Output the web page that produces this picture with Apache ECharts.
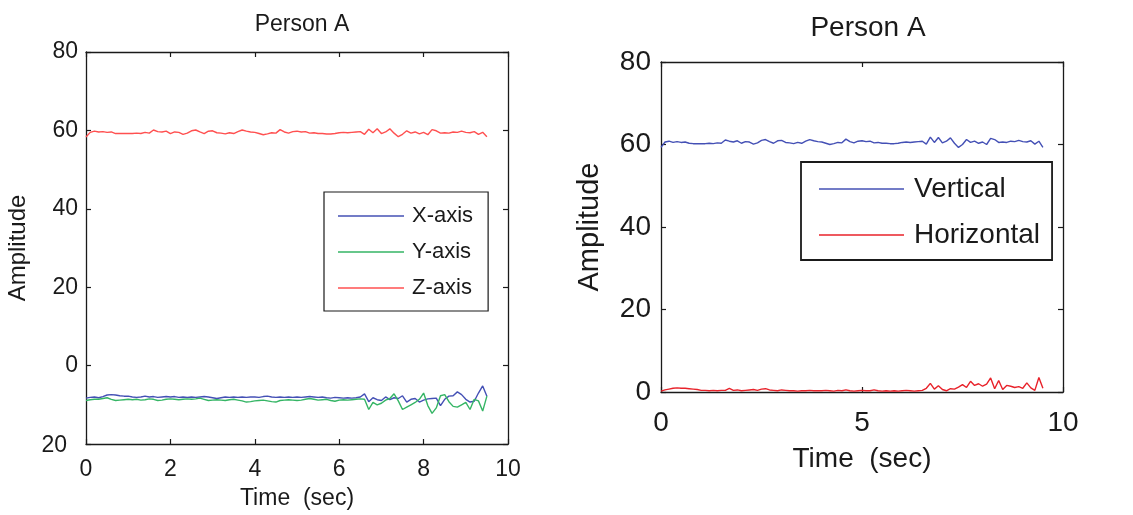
<!DOCTYPE html>
<html><head><meta charset="utf-8">
<script src="https://cdn.jsdelivr.net/npm/echarts@6/dist/echarts.min.js"></script>
<style>html,body{margin:0;padding:0;background:#fff}#c{width:1133px;height:515px}</style>
</head><body><div id="c"></div>
<script>
// time samples (sec)
const TIME = [0,0.1,0.2,0.3,0.4,0.5,0.6,0.7,0.8,0.9,1,1.1,1.2,1.3,1.4,1.5,1.6,1.7,1.8,1.9,2,2.1,2.2,2.3,2.4,2.5,2.6,2.7,2.8,2.9,3,3.1,3.2,3.3,3.4,3.5,3.6,3.7,3.8,3.9,4,4.1,4.2,4.3,4.4,4.5,4.6,4.7,4.8,4.9,5,5.1,5.2,5.3,5.4,5.5,5.6,5.7,5.8,5.9,6,6.1,6.2,6.3,6.4,6.5,6.6,6.7,6.8,6.9,7,7.1,7.2,7.3,7.4,7.5,7.6,7.7,7.8,7.9,8,8.1,8.2,8.3,8.4,8.5,8.6,8.7,8.8,8.9,9,9.1,9.2,9.3,9.4,9.5];

// Left panel: X/Y/Z axis amplitude
const X_AXIS = [-8.3,-8.1,-8.0,-8.2,-7.9,-7.5,-7.4,-7.5,-7.7,-7.8,-7.8,-8.0,-8.1,-8.0,-7.8,-8.0,-7.9,-8.1,-8.0,-7.9,-8.0,-7.9,-8.1,-8.0,-8.1,-8.0,-8.1,-8.0,-7.9,-8.0,-8.2,-8.4,-8.2,-8.0,-8.1,-8.0,-8.1,-8.0,-8.1,-8.0,-8.0,-8.1,-7.9,-7.8,-8.0,-8.1,-8.0,-8.1,-8.0,-8.1,-8.0,-8.1,-8.0,-7.9,-8.0,-8.1,-8.0,-8.2,-8.3,-8.1,-8.2,-8.3,-8.2,-8.3,-8.2,-8.0,-7.2,-9.2,-8.2,-8.7,-8.9,-8.0,-8.7,-8.2,-8.4,-7.7,-9.3,-8.6,-8.4,-9.3,-8.8,-8.5,-8.4,-8.3,-10.2,-8.6,-7.8,-7.7,-6.7,-7.4,-8.6,-9.3,-9.1,-7.0,-5.2,-7.8];
const Y_AXIS = [-8.9,-8.7,-8.6,-8.6,-8.4,-8.2,-8.6,-8.9,-8.8,-8.7,-8.6,-8.7,-8.6,-8.8,-8.7,-8.5,-8.6,-8.9,-8.8,-8.6,-8.5,-8.6,-8.7,-8.6,-8.5,-8.6,-8.5,-8.3,-8.6,-8.9,-8.8,-8.7,-8.8,-8.9,-8.7,-8.6,-8.8,-9.0,-9.3,-9.2,-9.0,-8.9,-8.8,-9.0,-9.2,-9.3,-8.9,-8.8,-8.7,-8.8,-8.9,-8.8,-8.6,-8.4,-8.6,-8.8,-8.7,-8.6,-8.9,-9.1,-8.8,-8.7,-8.8,-8.7,-8.6,-8.5,-8.6,-11.2,-9.4,-10.0,-9.6,-8.8,-8.4,-7.2,-9.0,-11.2,-10.6,-10.0,-9.4,-8.6,-7.0,-10.2,-12.2,-10.8,-7.7,-7.4,-9.2,-10.4,-10.6,-10.0,-9.4,-11.2,-8.6,-9.0,-11.6,-7.8];
const Z_AXIS = [58.3,59.5,59.8,59.6,59.7,59.5,59.6,59.2,59.2,59.2,59.2,59.2,59.3,59.2,59.5,59.3,60.1,59.7,59.6,59.8,59.2,59.6,59.5,59.0,59.3,59.9,60.1,59.6,59.2,59.8,59.9,59.4,59.3,59.1,59.4,59.2,59.7,60.1,59.8,59.6,59.5,59.2,58.9,59.1,59.4,59.3,60.2,59.6,59.3,59.7,59.8,59.6,59.7,59.3,59.4,59.2,59.2,59.1,59.1,59.2,59.4,59.5,59.4,59.5,59.6,59.7,59.0,60.3,59.4,60.4,59.2,59.6,60.4,59.3,58.4,59.0,59.9,59.3,59.6,59.1,59.5,58.9,60.2,59.9,59.3,59.4,59.3,59.6,59.5,59.8,59.5,59.4,59.7,59.0,59.5,58.4];

// Right panel: vertical / horizontal amplitude
const VERTICAL = [59.3,60.6,60.8,60.5,60.7,60.5,60.6,60.3,60.2,60.2,60.2,60.2,60.3,60.2,60.4,60.3,61.1,60.8,60.6,60.9,60.3,60.7,60.6,60.1,60.4,61.0,61.2,60.7,60.3,60.9,61.0,60.5,60.4,60.2,60.5,60.3,60.8,61.2,60.9,60.7,60.6,60.3,60.0,60.2,60.5,60.4,61.3,60.7,60.4,60.8,60.9,60.7,60.8,60.4,60.5,60.3,60.3,60.2,60.2,60.3,60.5,60.6,60.5,60.6,60.7,60.8,60.1,61.8,60.5,61.7,60.4,60.8,61.6,60.3,59.3,60.0,61.2,60.5,60.8,60.3,60.6,60.0,61.5,61.2,60.5,60.6,60.5,60.8,60.7,61.0,60.7,60.6,60.9,60.1,60.8,59.3];
const HORIZONTAL = [0.2,0.5,0.7,0.9,1.0,0.9,0.9,0.8,0.7,0.6,0.4,0.4,0.3,0.4,0.3,0.4,0.4,0.9,0.4,0.5,0.3,0.4,0.5,0.6,0.4,0.7,0.8,0.5,0.4,0.3,0.5,0.4,0.3,0.3,0.2,0.3,0.3,0.4,0.3,0.3,0.3,0.4,0.3,0.2,0.4,0.3,0.5,0.3,0.2,0.3,0.4,0.3,0.3,0.5,0.3,0.2,0.3,0.2,0.3,0.2,0.3,0.4,0.3,0.2,0.3,0.4,0.9,2.1,0.7,1.5,0.6,0.3,0.8,0.7,1.2,1.8,1.1,2.6,1.6,2.0,1.4,1.9,3.4,0.8,2.8,0.6,1.6,1.4,1.1,1.3,0.9,2.2,1.0,0.4,3.5,0.9];

const LEFT_TITLE = 'Person A';
const RIGHT_TITLE = 'Person A';
const X_NAME = 'Time  (sec)';
const Y_NAME = 'Amplitude';

const FONT = "'Liberation Sans', Arial, Helvetica, sans-serif";
const INK = '#1a1a1a';
const pairs = arr => arr.map((v, i) => [TIME[i], v]);

function frameAxes(gridIndex, fs, xInt, yMin, yMax, yInt, xGap, xMargin, yGap, yMargin, yFmt) {
  const lineStyle = { color: INK, width: 1.3 };
  const tick = { show: true, inside: true, length: 5, lineStyle: { color: INK, width: 1.2 } };
  const xs = [
    { type: 'value', gridIndex, min: 0, max: 10, interval: xInt, position: 'bottom',
      axisLine: { show: true, onZero: false, lineStyle }, axisTick: tick, splitLine: { show: false },
      axisLabel: { color: INK, fontSize: fs, fontFamily: FONT, margin: xMargin },
      name: X_NAME, nameLocation: 'middle', nameGap: xGap,
      nameTextStyle: { color: INK, fontSize: fs, fontFamily: FONT } },
    { type: 'value', gridIndex, min: 0, max: 10, interval: xInt, position: 'top',
      axisLine: { show: true, onZero: false, lineStyle }, axisTick: tick, splitLine: { show: false },
      axisLabel: { show: false } }
  ];
  const ys = [
    { type: 'value', gridIndex, min: yMin, max: yMax, interval: yInt, position: 'left',
      axisLine: { show: true, onZero: false, lineStyle }, axisTick: tick, splitLine: { show: false },
      axisLabel: { color: INK, fontSize: fs, fontFamily: FONT, margin: yMargin, formatter: yFmt,
        rich: { n: { color: INK, fontSize: fs, fontFamily: FONT, padding: [4, 11, 0, 0] } } },
      name: Y_NAME, nameLocation: 'middle', nameGap: yGap,
      nameTextStyle: { color: INK, fontSize: fs + 1, fontFamily: FONT } },
    { type: 'value', gridIndex, min: yMin, max: yMax, interval: yInt, position: 'right',
      axisLine: { show: true, onZero: false, lineStyle }, axisTick: tick, splitLine: { show: false },
      axisLabel: { show: false } }
  ];
  return { xs, ys };
}

const L = frameAxes(0, 23, 2, -20, 80, 20, 43, 14, 56, 8,
  v => v < 0 ? '{n|' + Math.abs(v) + '}' : String(v));
const R = frameAxes(1, 28, 5, 0, 80, 20, 53, 17, 57, 10, v => String(v));

const lineSeries = (name, data, color, xi, yi) => ({
  name, type: 'line', data: pairs(data), xAxisIndex: xi, yAxisIndex: yi,
  symbol: 'none', smooth: false, lineStyle: { color, width: 1.4 }, itemStyle: { color },
  animation: false
});

const chart = echarts.init(document.getElementById('c'), null, { renderer: 'canvas' });
chart.setOption({
  backgroundColor: '#fff',
  animation: false,
  title: [
    { text: LEFT_TITLE, left: 297, top: 8, textAlign: 'center',
      textStyle: { color: INK, fontSize: 23, fontWeight: 'normal', fontFamily: FONT } },
    { text: RIGHT_TITLE, left: 863, top: 9, textAlign: 'center',
      textStyle: { color: INK, fontSize: 28, fontWeight: 'normal', fontFamily: FONT } }
  ],
  grid: [
    { left: 86, top: 52, width: 422, height: 394 },
    { left: 661, top: 62, width: 402, height: 330 }
  ],
  xAxis: [...L.xs, ...R.xs.map(a => Object.assign(a, { gridIndex: 1 }))],
  yAxis: [...L.ys, ...R.ys.map(a => Object.assign(a, { gridIndex: 1 }))],
  legend: [
    { data: ['X-axis', 'Y-axis', 'Z-axis'], orient: 'vertical', left: 324, top: 192,
      icon: 'rect', itemWidth: 66, itemHeight: 1.4, itemGap: 14,
      padding: [13, 15, 12, 14],
      borderColor: INK, borderWidth: 1.2, backgroundColor: '#fff',
      textStyle: { color: INK, fontSize: 22, fontFamily: FONT, padding: [0, 0, 0, 3] } },
    { data: ['Vertical', 'Horizontal'], orient: 'vertical', left: 801, top: 162,
      icon: 'rect', itemWidth: 85, itemHeight: 1.4, itemGap: 18,
      padding: [13, 12, 11, 18],
      borderColor: INK, borderWidth: 1.8, backgroundColor: '#fff',
      textStyle: { color: INK, fontSize: 28, fontFamily: FONT, padding: [0, 0, 0, 5] } }
  ],
  series: [
    lineSeries('X-axis', X_AXIS, '#4450b5', 0, 0),
    lineSeries('Y-axis', Y_AXIS, '#35b565', 0, 0),
    lineSeries('Z-axis', Z_AXIS, '#ff5050', 0, 0),
    lineSeries('Vertical', VERTICAL, '#4450b5', 2, 2),
    lineSeries('Horizontal', HORIZONTAL, '#e8222a', 2, 2)
  ]
});
</script>
</body></html>
